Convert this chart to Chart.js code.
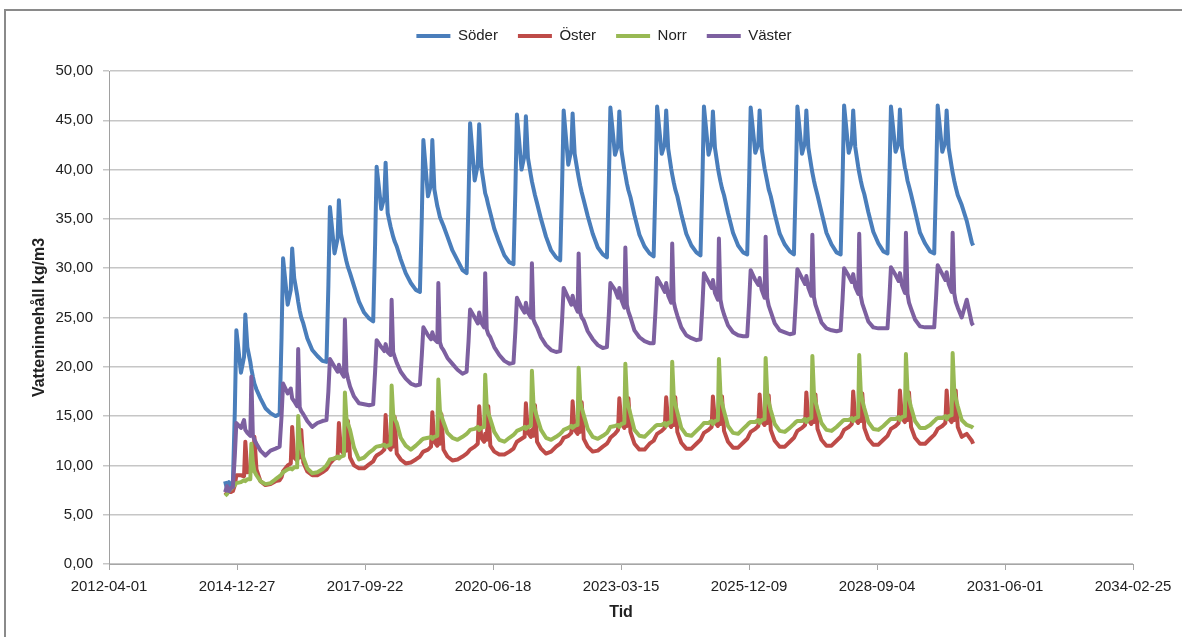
<!DOCTYPE html>
<html>
<head>
<meta charset="utf-8">
<script src="https://cdn.jsdelivr.net/npm/chart.js@4.4.1/dist/chart.umd.min.js"></script>
<style>
  html, body { margin: 0; padding: 0; background: #fff; }
</style>
</head>
<body>
<canvas id="water-chart" width="1182" height="637"></canvas>
<script>
// measurement dates, shared by all four series
const dates = [
  "2014-09-25", "2014-10-10", "2014-10-25", "2014-11-10",
  "2014-11-25", "2014-12-10", "2014-12-22", "2015-01-27", "2015-02-20", "2015-03-02", "2015-03-18", "2015-04-10", "2015-04-18", "2015-04-30", "2015-05-12", "2015-05-28", "2015-06-28", "2015-08-06", "2015-09-15", "2015-10-24",
  "2015-11-25", "2015-12-10", "2015-12-22", "2016-01-27", "2016-02-20", "2016-03-02", "2016-03-18", "2016-04-10", "2016-04-18", "2016-04-30", "2016-05-12", "2016-05-28", "2016-06-28", "2016-08-06", "2016-09-15", "2016-10-24",
  "2016-11-25", "2016-12-10", "2016-12-22", "2017-01-27", "2017-02-20", "2017-03-02", "2017-03-18", "2017-04-10", "2017-04-18", "2017-04-30", "2017-05-12", "2017-05-28", "2017-06-28", "2017-08-06", "2017-09-15", "2017-10-24",
  "2017-11-25", "2017-12-10", "2017-12-22", "2018-01-27", "2018-02-20", "2018-03-02", "2018-03-18", "2018-04-10", "2018-04-18", "2018-04-30", "2018-05-12", "2018-05-28", "2018-06-28", "2018-08-06", "2018-09-15", "2018-10-24",
  "2018-11-25", "2018-12-10", "2018-12-22", "2019-01-27", "2019-02-20", "2019-03-02", "2019-03-18", "2019-04-10", "2019-04-18", "2019-04-30", "2019-05-12", "2019-05-28", "2019-06-28", "2019-08-06", "2019-09-15", "2019-10-24",
  "2019-11-25", "2019-12-10", "2019-12-22", "2020-01-27", "2020-02-20", "2020-03-02", "2020-03-18", "2020-04-10", "2020-04-18", "2020-04-30", "2020-05-12", "2020-05-28", "2020-06-28", "2020-08-06", "2020-09-15", "2020-10-24",
  "2020-11-25", "2020-12-10", "2020-12-22", "2021-01-27", "2021-02-20", "2021-03-02", "2021-03-18", "2021-04-10", "2021-04-18", "2021-04-30", "2021-05-12", "2021-05-28", "2021-06-28", "2021-08-06", "2021-09-15", "2021-10-24",
  "2021-11-25", "2021-12-10", "2021-12-22", "2022-01-27", "2022-02-20", "2022-03-02", "2022-03-18", "2022-04-10", "2022-04-18", "2022-04-30", "2022-05-12", "2022-05-28", "2022-06-28", "2022-08-06", "2022-09-15", "2022-10-24",
  "2022-11-25", "2022-12-10", "2022-12-22", "2023-01-27", "2023-02-20", "2023-03-02", "2023-03-18", "2023-04-10", "2023-04-18", "2023-04-30", "2023-05-12", "2023-05-28", "2023-06-28", "2023-08-06", "2023-09-15", "2023-10-24",
  "2023-11-25", "2023-12-10", "2023-12-22", "2024-01-27", "2024-02-20", "2024-03-02", "2024-03-18", "2024-04-10", "2024-04-18", "2024-04-30", "2024-05-12", "2024-05-28", "2024-06-28", "2024-08-06", "2024-09-15", "2024-10-24",
  "2024-11-25", "2024-12-10", "2024-12-22", "2025-01-27", "2025-02-20", "2025-03-02", "2025-03-18", "2025-04-10", "2025-04-18", "2025-04-30", "2025-05-12", "2025-05-28", "2025-06-28", "2025-08-06", "2025-09-15", "2025-10-24",
  "2025-11-25", "2025-12-10", "2025-12-22", "2026-01-27", "2026-02-20", "2026-03-02", "2026-03-18", "2026-04-10", "2026-04-18", "2026-04-30", "2026-05-12", "2026-05-28", "2026-06-28", "2026-08-06", "2026-09-15", "2026-10-24",
  "2026-11-25", "2026-12-10", "2026-12-22", "2027-01-27", "2027-02-20", "2027-03-02", "2027-03-18", "2027-04-10", "2027-04-18", "2027-04-30", "2027-05-12", "2027-05-28", "2027-06-28", "2027-08-06", "2027-09-15", "2027-10-24",
  "2027-11-25", "2027-12-10", "2027-12-22", "2028-01-27", "2028-02-20", "2028-03-02", "2028-03-18", "2028-04-10", "2028-04-18", "2028-04-30", "2028-05-12", "2028-05-28", "2028-06-28", "2028-08-06", "2028-09-15", "2028-10-24",
  "2028-11-25", "2028-12-10", "2028-12-22", "2029-01-27", "2029-02-20", "2029-03-02", "2029-03-18", "2029-04-10", "2029-04-18", "2029-04-30", "2029-05-12", "2029-05-28", "2029-06-28", "2029-08-06", "2029-09-15", "2029-10-24",
  "2029-11-25", "2029-12-10", "2029-12-22", "2030-01-27", "2030-02-20", "2030-03-02", "2030-03-18", "2030-04-10", "2030-04-18", "2030-04-30", "2030-05-12", "2030-05-28", "2030-06-28", "2030-08-06", "2030-09-15", "2030-09-25",
];

const soder = [
  8.4, 7.6, 8.3, 7.9,
  8.3, 15.5, 23.7, 19.4, 21.0, 25.3, 22.0, 20.5, 19.8, 19.0, 18.3, 17.7, 16.8, 15.8, 15.3, 15.0,
  15.2, 23.0, 31.0, 26.3, 27.8, 32.0, 29.0, 27.3, 26.6, 25.7, 25.0, 24.4, 22.9, 21.7, 21.1, 20.6,
  20.5, 28.3, 36.2, 31.5, 33.0, 36.9, 33.5, 31.9, 31.4, 30.7, 30.1, 29.5, 28.2, 26.6, 25.5, 24.9,
  24.6, 32.5, 40.3, 36.0, 37.2, 40.7, 35.6, 34.2, 33.8, 33.2, 32.7, 32.2, 30.9, 29.5, 28.5, 27.8,
  27.6, 35.3, 43.0, 37.3, 38.5, 43.0, 38.0, 36.3, 35.9, 35.2, 34.8, 34.3, 33.2, 31.8, 30.8, 29.8,
  29.5, 37.0, 44.7, 38.9, 40.5, 44.6, 40.3, 38.3, 37.6, 37.1, 36.4, 35.6, 34.0, 32.6, 31.3, 30.6,
  30.4, 38.0, 45.6, 40.0, 41.5, 45.4, 41.2, 39.4, 38.8, 38.1, 37.4, 36.6, 35.0, 33.2, 31.8, 31.1,
  30.8, 38.5, 46.0, 40.5, 42.0, 45.7, 41.6, 39.8, 39.2, 38.4, 37.7, 36.9, 35.3, 33.5, 32.1, 31.4,
  31.1, 38.7, 46.3, 41.5, 42.5, 45.9, 42.0, 40.0, 39.5, 38.6, 37.9, 37.2, 35.4, 33.4, 32.2, 31.5,
  31.2, 38.8, 46.4, 41.6, 42.6, 46.0, 42.1, 40.1, 39.5, 38.7, 38.0, 37.3, 35.5, 33.5, 32.3, 31.6,
  31.3, 38.9, 46.4, 41.5, 42.7, 45.9, 42.2, 40.2, 39.6, 38.8, 38.1, 37.4, 35.6, 33.6, 32.3, 31.6,
  31.4, 38.9, 46.3, 41.7, 42.6, 46.0, 42.1, 40.1, 39.6, 38.8, 38.0, 37.3, 35.5, 33.5, 32.4, 31.7,
  31.4, 39.0, 46.4, 41.6, 42.8, 46.0, 42.2, 40.3, 39.7, 38.9, 38.2, 37.4, 35.7, 33.6, 32.4, 31.6,
  31.4, 39.0, 46.5, 41.7, 42.8, 46.0, 42.3, 40.3, 39.7, 38.9, 38.2, 37.5, 35.7, 33.7, 32.5, 31.7,
  31.5, 39.0, 46.4, 41.8, 42.7, 46.1, 42.2, 40.2, 39.8, 38.9, 38.3, 37.5, 35.8, 33.6, 32.5, 31.7,
  31.5, 39.1, 46.5, 41.8, 42.8, 46.0, 42.2, 40.3, 39.7, 38.9, 38.2, 37.4, 36.4, 34.8, 32.6, 32.3,
];

const oster = [
  7.0, 7.2, 7.3, 7.3,
  7.4, 8.0, 9.0, 9.0, 8.9, 12.4, 9.3, 9.4, 9.8, 9.5, 12.9, 9.6, 8.4, 8.0, 8.1, 8.4,
  8.5, 8.8, 9.4, 10.0, 10.2, 13.9, 10.8, 10.5, 11.2, 10.8, 13.6, 10.3, 9.4, 9.0, 9.0, 9.3,
  9.6, 9.9, 10.2, 10.7, 10.8, 14.3, 11.5, 11.2, 12.0, 11.5, 14.5, 10.8, 10.0, 9.7, 9.7, 10.1,
  10.4, 10.8, 11.0, 11.3, 11.6, 15.1, 12.0, 11.6, 12.4, 11.9, 14.9, 11.2, 10.6, 10.2, 10.3, 10.6,
  10.9, 11.2, 11.4, 11.6, 11.9, 15.4, 12.4, 12.0, 12.8, 12.2, 15.2, 11.6, 10.9, 10.5, 10.6, 10.9,
  11.2, 11.4, 11.6, 11.9, 12.2, 16.0, 12.8, 12.4, 13.2, 12.6, 16.0, 12.0, 11.4, 11.1, 11.1, 11.4,
  11.7, 12.1, 12.4, 12.7, 12.9, 16.3, 13.3, 12.9, 13.6, 13.0, 16.1, 12.4, 11.7, 11.2, 11.4, 11.9,
  12.2, 12.5, 12.8, 13.0, 13.3, 16.5, 13.6, 13.2, 14.0, 13.4, 16.4, 12.7, 11.9, 11.4, 11.5, 11.9,
  12.2, 12.5, 12.8, 13.2, 13.6, 16.8, 14.3, 13.8, 14.6, 14.0, 16.8, 13.4, 12.2, 11.6, 11.6, 12.2,
  12.5, 12.9, 13.2, 13.5, 13.8, 16.9, 14.3, 13.9, 14.6, 14.1, 16.9, 13.4, 12.3, 11.7, 11.7, 12.2,
  12.6, 13.0, 13.3, 13.6, 13.9, 17.0, 14.4, 14.0, 14.7, 14.2, 17.0, 13.5, 12.4, 11.8, 11.8, 12.3,
  12.7, 13.1, 13.4, 13.7, 14.0, 17.2, 14.5, 14.1, 14.8, 14.3, 17.1, 13.6, 12.5, 11.9, 11.9, 12.4,
  12.8, 13.2, 13.5, 13.8, 14.1, 17.4, 14.6, 14.2, 14.9, 14.4, 17.2, 13.7, 12.6, 12.0, 12.0, 12.5,
  12.9, 13.3, 13.6, 13.9, 14.2, 17.5, 14.7, 14.3, 15.0, 14.5, 17.3, 13.8, 12.7, 12.1, 12.1, 12.6,
  13.0, 13.4, 13.7, 14.0, 14.3, 17.6, 14.8, 14.4, 15.1, 14.6, 17.4, 13.9, 12.8, 12.2, 12.2, 12.7,
  13.1, 13.4, 13.7, 14.0, 14.3, 17.6, 14.8, 14.4, 15.1, 14.6, 17.6, 13.9, 12.9, 13.2, 12.5, 12.2,
];

const norr = [
  6.9, 7.1, 7.4, 7.6,
  7.8, 8.0, 8.2, 8.3, 8.5, 8.4, 8.6, 8.6, 12.2, 10.3, 9.4, 9.0, 8.4, 8.1, 8.2, 8.6,
  8.9, 9.1, 9.3, 9.6, 9.7, 9.6, 9.8, 9.8, 15.0, 12.5, 11.8, 10.8, 9.7, 9.2, 9.3, 9.6,
  10.0, 10.3, 10.6, 10.7, 10.9, 10.7, 10.9, 11.0, 17.4, 14.8, 14.2, 13.6, 11.8, 10.6, 10.8, 11.3,
  11.6, 11.8, 11.9, 12.0, 12.1, 11.9, 12.0, 12.1, 18.1, 15.2, 14.7, 14.3, 12.8, 12.0, 11.6, 12.0,
  12.4, 12.6, 12.7, 12.8, 12.9, 12.7, 12.9, 13.0, 18.7, 15.6, 15.0, 14.4, 13.3, 12.8, 12.6, 12.9,
  13.2, 13.4, 13.6, 13.7, 13.9, 13.6, 13.8, 13.9, 19.2, 16.0, 15.3, 14.7, 13.4, 12.6, 12.4, 12.8,
  13.1, 13.3, 13.5, 13.7, 13.9, 13.7, 13.9, 14.0, 19.6, 16.3, 15.6, 14.9, 13.6, 12.8, 12.6, 12.9,
  13.2, 13.4, 13.6, 13.8, 14.0, 13.8, 14.0, 14.1, 19.9, 16.5, 15.8, 15.1, 13.7, 12.9, 12.7, 13.0,
  13.3, 13.6, 13.9, 14.0, 14.1, 13.9, 14.2, 14.3, 20.3, 16.8, 16.0, 15.2, 13.6, 13.0, 12.9, 13.4,
  13.8, 14.0, 14.1, 14.1, 14.3, 14.0, 14.3, 14.4, 20.5, 17.0, 16.2, 15.4, 13.8, 13.1, 13.0, 13.5,
  13.9, 14.1, 14.3, 14.3, 14.5, 14.2, 14.5, 14.6, 20.8, 17.2, 16.3, 15.5, 14.0, 13.3, 13.2, 13.7,
  14.1, 14.3, 14.4, 14.4, 14.6, 14.3, 14.6, 14.7, 20.9, 17.3, 16.4, 15.6, 14.2, 13.5, 13.4, 13.8,
  14.2, 14.4, 14.5, 14.5, 14.7, 14.4, 14.7, 14.8, 21.1, 17.4, 16.5, 15.7, 14.3, 13.6, 13.5, 13.9,
  14.3, 14.5, 14.6, 14.6, 14.8, 14.5, 14.8, 14.9, 21.2, 17.5, 16.6, 15.8, 14.4, 13.7, 13.6, 14.0,
  14.4, 14.6, 14.7, 14.7, 14.9, 14.6, 14.9, 15.0, 21.3, 17.6, 16.7, 15.9, 14.5, 13.8, 13.8, 14.1,
  14.5, 14.7, 14.8, 14.8, 15.0, 14.7, 15.0, 15.1, 21.4, 17.7, 16.8, 16.0, 14.6, 14.1, 13.9, 13.8,
];

const vaster = [
  7.3, 7.9, 7.4, 7.7,
  7.8, 11.0, 14.3, 13.8, 14.6, 13.6, 13.3, 13.0, 19.0, 13.0, 12.6, 12.2, 11.5, 11.0, 11.5, 11.7,
  11.9, 15.0, 18.3, 17.3, 17.8, 16.8, 16.5, 16.0, 21.8, 15.9, 15.5, 15.2, 14.5, 13.9, 14.3, 14.5,
  14.6, 17.5, 20.8, 20.0, 19.5, 20.2, 19.5, 19.0, 24.8, 19.5, 18.8, 18.0, 17.0, 16.3, 16.2, 16.1,
  16.2, 19.5, 22.7, 22.0, 21.6, 22.3, 21.5, 21.2, 26.8, 21.5, 21.0, 20.4, 19.5, 18.8, 18.3, 18.1,
  18.2, 21.2, 24.0, 23.2, 22.8, 23.5, 22.8, 22.5, 28.5, 22.5, 22.0, 21.7, 20.9, 20.3, 19.7, 19.3,
  19.5, 22.6, 25.8, 25.0, 24.4, 25.5, 24.5, 24.0, 29.5, 23.8, 23.3, 23.0, 22.0, 21.2, 20.6, 20.3,
  20.4, 23.7, 27.0, 26.0, 25.5, 26.5, 25.5, 25.0, 30.5, 24.8, 24.4, 24.0, 23.0, 22.2, 21.7, 21.5,
  21.6, 24.8, 28.0, 27.0, 26.3, 27.2, 26.3, 25.6, 31.5, 25.5, 25.0, 24.7, 23.6, 22.8, 22.2, 21.9,
  22.0, 25.3, 28.5, 27.8, 27.0, 28.0, 26.8, 26.0, 32.1, 26.3, 25.6, 25.0, 23.7, 23.0, 22.6, 22.4,
  22.4, 25.8, 29.0, 28.2, 27.6, 28.5, 27.2, 26.5, 32.5, 26.6, 25.9, 25.2, 24.0, 23.2, 22.9, 22.7,
  22.8, 26.2, 29.5, 28.6, 28.0, 28.8, 27.5, 26.8, 33.0, 26.8, 26.0, 25.3, 24.2, 23.5, 23.2, 23.1,
  23.1, 26.5, 29.8, 28.8, 28.3, 29.0, 27.8, 27.0, 33.2, 27.0, 26.2, 25.6, 24.4, 23.7, 23.5, 23.3,
  23.4, 26.7, 29.9, 29.0, 28.4, 29.2, 28.0, 27.2, 33.4, 27.1, 26.3, 25.7, 24.5, 23.9, 23.7, 23.6,
  23.7, 26.9, 30.0, 29.2, 28.6, 29.4, 28.1, 27.4, 33.5, 27.2, 26.4, 25.8, 24.6, 24.0, 23.9, 23.9,
  23.9, 27.0, 30.1, 29.3, 28.7, 29.5, 28.3, 27.5, 33.6, 27.4, 26.5, 25.9, 24.8, 24.1, 24.0, 24.0,
  24.0, 27.2, 30.3, 29.4, 28.8, 29.6, 28.4, 27.6, 33.6, 27.5, 26.6, 26.0, 25.0, 26.8, 24.4, 24.2,
];

const xTickLabels = [
  "2012-04-01", "2014-12-27", "2017-09-22", "2020-06-18", "2023-03-15",
  "2025-12-09", "2028-09-04", "2031-06-01", "2034-02-25",
];

const fontFamily = "'Liberation Sans', Arial, sans-serif";
const textColor = "#222222";

const toDay = (s) => Date.parse(s) / 86400000;
const toPoints = (values) => values.map((v, i) => ({ x: toDay(dates[i]), y: v }));

// grey frame of the chart area, cut off at right and bottom like the original
const chartFrame = {
  id: "chartFrame",
  beforeDraw(chart) {
    const ctx = chart.ctx;
    ctx.save();
    ctx.fillStyle = "#ffffff";
    ctx.fillRect(0, 0, chart.width, chart.height);
    ctx.strokeStyle = "#8a8a8a";
    ctx.lineWidth = 2;
    ctx.strokeRect(5, 10, chart.width + 20, chart.height + 20);
    ctx.restore();
  },
};

const series = (label, values, color, order) => ({
  label,
  data: toPoints(values),
  borderColor: color,
  backgroundColor: color,
  borderWidth: 4,
  order,
});

const waterChart = document.getElementById("water-chart");
const waterChartInstance = new Chart(waterChart, {
  type: "line",
  data: {
    datasets: [
      series("Söder", soder, "#4a7ebb", 4),
      series("Öster", oster, "#be4b48", 3),
      series("Norr", norr, "#98b954", 2),
      series("Väster", vaster, "#7d60a0", 1),
    ],
  },
  options: {
    responsive: false,
    animation: false,
    elements: {
      point: { radius: 0, hoverRadius: 0 },
      line: { tension: 0, borderJoinStyle: "round" },
    },
    layout: { padding: { left: 26, top: 8.5, right: 0, bottom: 13 } },
    plugins: {
      legend: {
        display: true,
        position: "top",
        weight: 3000,
        labels: {
          usePointStyle: true,
          pointStyle: "line",
          pointStyleWidth: 34,
          padding: 20,
          color: textColor,
          font: { family: fontFamily, size: 15 },
          sort: (a, b) => a.datasetIndex - b.datasetIndex,
        },
      },
      // empty title only used as spacing between legend and plot
      title: { display: true, text: "", padding: { top: 5.5, bottom: 0 }, font: { size: 10 } },
      tooltip: { enabled: false },
    },
    scales: {
      x: {
        type: "linear",
        min: toDay(xTickLabels[0]),
        max: toDay(xTickLabels[xTickLabels.length - 1]),
        afterBuildTicks: (scale) => {
          scale.ticks = xTickLabels.map((t) => ({ value: toDay(t) }));
        },
        afterFit: (scale) => {
          scale.height = 60;
          scale.paddingRight = 49;
        },
        ticks: {
          autoSkip: false,
          maxRotation: 0,
          padding: 8,
          color: textColor,
          font: { family: fontFamily, size: 15 },
          callback: (value) => new Date(value * 86400000).toISOString().slice(0, 10),
        },
        grid: { drawOnChartArea: false, drawTicks: true, tickLength: 6, color: "#a6a6a6" },
        border: { display: true, color: "#a6a6a6" },
        title: {
          display: true,
          text: "Tid",
          color: textColor,
          font: { family: fontFamily, size: 16, weight: "bold" },
          padding: { top: 4, bottom: 2 },
        },
      },
      y: {
        min: 0,
        max: 50,
        afterFit: (scale) => {
          scale.width = 83;
        },
        ticks: {
          stepSize: 5,
          padding: 10,
          color: textColor,
          font: { family: fontFamily, size: 15 },
          callback: (value) => value.toFixed(2).replace(".", ","),
        },
        grid: { color: "#c6c6c6", lineWidth: 1.5, tickLength: 6 },
        border: { display: true, color: "#a0a0a0" },
        title: {
          display: true,
          text: "Vatteninnehåll kg/m3",
          color: textColor,
          font: { family: fontFamily, size: 16, weight: "bold" },
          padding: { top: 4, bottom: 4 },
        },
      },
    },
  },
  plugins: [chartFrame],
});
</script>
</body>
</html>
